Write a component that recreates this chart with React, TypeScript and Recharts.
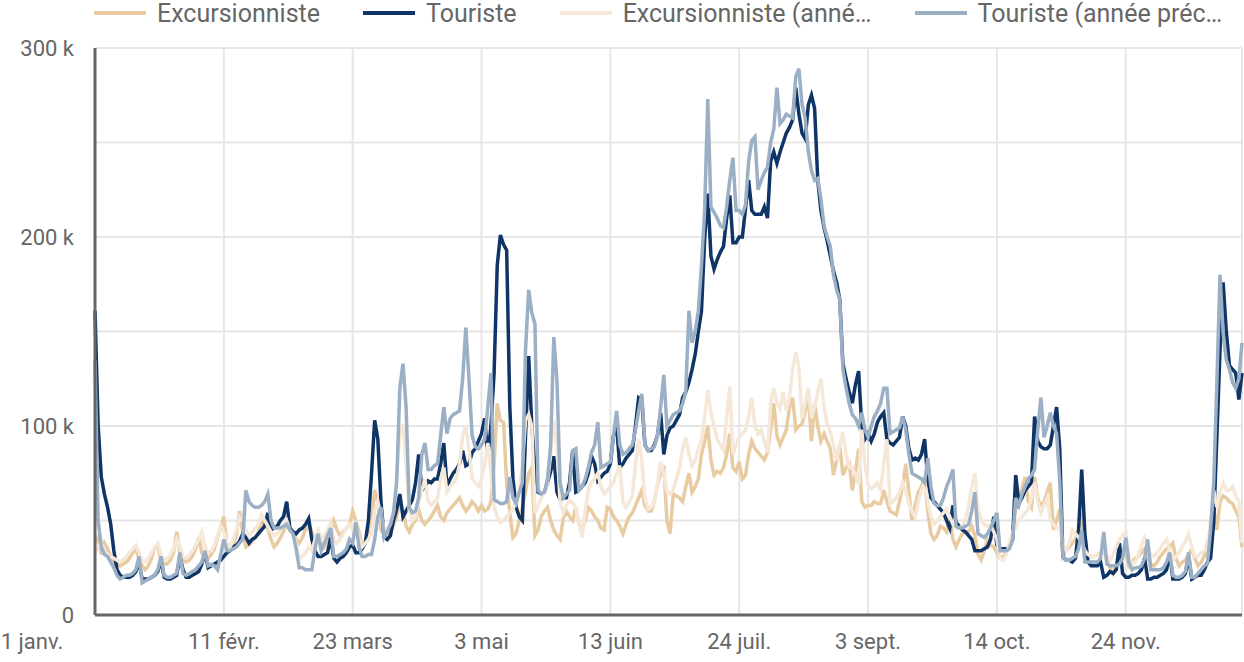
import React from 'react';
import { LineChart, Line, XAxis, YAxis, CartesianGrid, Legend } from 'recharts';

// Values in thousands (k), one per day, 1 Jan -> 31 Dec (leap year, 366 days)
const touriste: number[] = [
  161,100,73,64,57,48,34,24,21,20,
  20,20,21,23,28,19,19,19,20,21,
  23,29,20,19,19,20,21,31,24,20,
  20,21,22,23,27,33,25,26,27,28,
  29,31,33,34,36,37,39,43,41,38,
  40,41,43,45,47,54,45,46,47,50,
  52,60,46,44,43,45,46,48,51,40,
  34,31,31,32,33,41,30,28,30,31,
  33,36,37,33,33,35,38,50,75,103,
  93,60,41,40,42,50,56,64,52,55,
  58,61,70,85,66,68,71,70,72,72,
  80,91,68,72,75,77,80,87,79,80,
  86,88,92,96,104,84,100,128,185,201,
  196,193,110,72,57,52,50,95,137,100,
  78,65,64,65,70,76,84,65,61,62,
  62,70,87,65,66,68,70,75,84,80,
  71,73,75,76,80,95,100,78,80,83,
  85,87,100,115,114,90,87,87,90,95,
  107,85,95,99,100,103,106,115,118,123,130,
  138,150,161,199,223,190,183,188,192,195,
  210,222,197,197,200,200,215,230,214,212,
  212,212,216,210,240,245,239,245,250,255,
  258,262,279,265,255,252,270,275,268,230,
  214,205,198,190,182,176,167,133,125,118,
  112,122,129,100,93,96,92,96,102,105,
  107,93,91,90,92,94,105,100,88,82,
  83,82,85,93,72,62,60,58,56,54,
  50,46,58,49,47,45,44,42,40,34,
  34,34,35,36,40,52,37,35,35,35,
  36,40,74,59,62,66,68,70,105,92,
  89,88,88,90,100,110,88,31,29,29,
  28,30,45,77,43,28,26,26,26,28,
  20,21,23,22,24,38,22,20,20,21,
  21,22,24,30,19,19,20,20,21,22,
  24,33,19,19,19,20,22,31,19,20,
  21,21,24,28,30,49,94,140,176,150,
  132,130,128,114,128,
];

const touristePrec: number[] = [
  135,50,36,32,31,28,25,21,19,20,
  21,21,22,24,31,17,18,19,20,21,
  24,31,21,20,20,21,22,33,22,21,
  22,23,24,26,28,34,26,27,26,24,
  32,40,34,34,35,36,38,40,66,60,
  58,57,57,58,60,64,50,46,46,46,
  47,48,45,43,35,25,25,24,24,24,
  35,43,34,38,42,46,31,31,32,33,
  35,40,38,49,36,31,31,32,32,40,
  52,57,41,44,48,54,70,120,133,110,
  57,54,55,62,85,91,77,77,79,80,
  95,110,96,104,106,107,108,125,152,125,
  95,89,88,90,93,110,128,61,60,59,
  59,60,73,62,59,65,70,140,172,160,
  154,66,64,65,72,90,147,124,70,62,
  64,66,87,88,66,68,72,78,86,90,
  102,78,79,80,81,95,108,90,85,86,
  88,90,98,108,117,90,87,88,89,95,
  110,127,100,103,106,107,108,112,118,161,144,
  150,161,185,214,273,216,213,210,206,205,
  216,230,242,214,214,212,217,240,251,253,
  225,230,234,237,250,257,279,260,262,265,
  264,263,285,289,270,263,245,235,230,231,
  220,206,200,195,180,172,167,130,120,112,
  106,104,100,107,98,94,100,105,108,112,
  120,120,96,97,98,99,105,98,85,75,
  74,73,72,70,83,68,59,58,58,62,
  68,72,77,47,46,46,47,48,55,65,
  43,42,41,43,46,50,54,34,34,34,
  35,40,62,58,64,68,72,74,77,98,
  115,94,100,107,100,96,71,31,29,29,
  30,31,35,45,28,28,28,28,28,30,
  44,27,26,26,26,27,30,41,28,24,
  25,25,26,30,40,24,24,24,24,25,
  28,33,21,20,20,21,23,33,20,20,
  22,24,26,27,45,70,123,180,149,135,
  130,123,120,125,144,
];

const excursionniste: number[] = [
  38,41,32,38,35,31,28,27,26,27,
  28,30,33,35,30,26,24,26,30,36,
  36,29,27,27,29,33,44,33,29,28,
  29,31,35,41,33,30,30,32,35,41,
  47,52,36,37,38,42,55,44,36,37,
  39,41,44,50,47,46,40,36,38,41,
  44,49,46,44,40,38,41,45,48,44,
  40,41,38,36,39,44,50,45,42,44,
  46,48,55,50,44,36,38,40,50,66,
  60,45,42,40,44,48,52,60,56,47,
  44,48,50,56,50,48,50,52,55,58,
  52,50,54,56,58,60,62,58,55,57,
  60,58,55,58,55,56,60,80,112,103,
  102,70,54,41,43,50,57,65,75,78,
  42,45,52,55,57,50,45,42,40,51,
  55,52,50,57,48,45,50,57,55,52,
  50,46,45,57,56,52,50,47,43,48,
  52,54,58,62,66,58,55,55,60,69,
  75,79,50,43,64,63,62,60,68,75,65,
  68,72,85,92,100,82,74,76,75,78,
  85,96,78,76,81,72,74,85,92,88,
  86,84,82,86,98,112,95,90,94,98,
  110,115,98,100,101,108,115,92,112,100,
  92,96,92,88,74,82,90,74,78,80,
  66,76,88,60,57,58,58,60,59,59,
  66,60,55,54,53,60,68,80,65,50,
  58,65,68,73,55,43,40,42,47,46,
  44,52,40,36,40,43,44,44,47,42,
  32,29,34,40,37,36,33,30,31,33,
  36,42,57,61,67,73,60,57,73,62,
  57,60,65,70,45,50,56,31,34,36,
  38,40,46,54,31,31,31,31,32,33,
  35,29,25,22,26,29,31,33,26,28,
  30,31,33,35,30,27,26,28,31,33,
  35,36,38,30,26,28,29,32,35,30,
  26,28,31,38,45,56,45,60,63,62,
  60,59,55,52,36,
];

const excursionnistePrec: number[] = [
  33,36,38,34,32,31,30,29,28,29,
  31,33,35,37,33,29,28,30,33,36,
  38,32,29,30,32,35,40,36,31,30,
  32,34,37,40,44,36,33,34,37,42,
  47,44,38,36,40,45,52,50,45,42,
  44,46,48,53,50,47,44,42,43,45,
  48,50,45,42,38,30,31,33,36,34,
  40,45,40,42,45,49,40,38,40,43,
  46,48,45,48,40,36,38,40,44,55,
  60,52,46,45,48,55,75,95,101,80,
  55,50,52,60,66,72,60,58,60,62,
  72,78,65,68,70,72,80,95,100,88,
  72,70,68,72,80,91,75,57,52,49,
  50,52,54,56,60,65,80,103,106,100,
  54,58,62,65,70,85,103,89,60,54,
  58,61,59,57,48,41,55,66,70,72,
  75,68,64,66,68,70,75,79,60,57,
  60,63,80,93,82,62,56,57,60,70,
  81,75,65,64,66,72,78,88,94,85,79,
  82,88,93,105,119,107,100,93,90,87,
  105,121,85,90,94,96,98,105,115,100,
  96,98,92,86,112,120,112,109,118,108,
  115,130,139,131,104,112,120,104,110,118,
  125,110,101,97,90,82,90,97,85,78,
  78,74,69,98,80,69,67,68,70,66,
  80,93,59,60,62,65,70,65,59,55,
  52,60,66,70,60,52,48,50,52,54,
  56,52,48,46,46,47,50,58,68,75,
  56,50,48,47,48,44,40,30,29,32,
  38,44,46,50,52,54,56,62,70,60,
  54,58,62,50,48,46,45,38,34,38,
  45,43,41,38,34,32,31,31,32,33,
  34,31,29,32,36,40,42,44,30,27,
  28,32,37,41,36,32,31,33,35,38,
  40,34,29,31,33,36,39,43,36,31,
  31,33,34,36,50,66,57,65,70,66,
  66,68,63,60,38,
];

const tickDays: number[] = [0, 41, 82, 123, 164, 205, 246, 287, 328];
const tickLabels: string[] = ['1 janv.', '11 févr.', '23 mars', '3 mai', '13 juin', '24 juil.', '3 sept.', '14 oct.', '24 nov.'];
const yTicks: number[] = [0, 50, 100, 150, 200, 250, 300];

const seriesNames: string[] = ['Excursionniste', 'Touriste', 'Excursionniste (année précédente)', 'Touriste (année précédente)'];
const legendLabels: string[] = ['Excursionniste', 'Touriste', 'Excursionniste (anné…', 'Touriste (année préc…'];
const colors: string[] = ['#e8cba1', '#0f3466', '#f6e8d8', '#9bafc5'];

const data = touriste.map((_, i) => ({
  day: i,
  exc: excursionniste[i],
  tour: touriste[i],
  excPrev: excursionnistePrec[i],
  tourPrev: touristePrec[i],
}));

const FONT = 'Roboto, "Noto Sans", sans-serif';

const XTick = (props: any) => {
  const { x, y, payload } = props;
  const idx = tickDays.indexOf(payload.value);
  const label = idx >= 0 ? tickLabels[idx] : '';
  const px = payload.value === 0 ? x - 63 : x;
  return (
    <text x={px} y={y} dy="0.71em" textAnchor="middle" fill="#666" fontSize={22} fontFamily={FONT}>
      {label}
    </text>
  );
};

const LegendContent = () => (
  <div style={{ display: 'flex', alignItems: 'center', height: 26, paddingLeft: 94, fontFamily: FONT, fontSize: 25, color: '#666', whiteSpace: 'nowrap' }}>
    {legendLabels.map((l, i) => (
      <div key={l} style={{ display: 'flex', alignItems: 'center', marginRight: 43 }}>
        <span style={{ display: 'inline-block', width: 52, height: 4, background: colors[i], marginRight: 11 }} />
        <span>{l}</span>
      </div>
    ))}
  </div>
);

const keys = ['exc', 'tour', 'excPrev', 'tourPrev'];

export default function App() {
  return (
    <div style={{ position: 'absolute', left: 0, top: 0, width: 1244, height: 662, background: '#fff' }}>
      <LineChart width={1244} height={662} data={data} margin={{ top: 22, right: 2, bottom: 0, left: 0 }}>
        <CartesianGrid stroke="#e6e6e6" strokeWidth={2} />
        <XAxis
          dataKey="day"
          type="number"
          domain={[0, 365]}
          ticks={tickDays}
          tick={<XTick />}
          tickLine={false}
          tickSize={0}
          tickMargin={18}
          height={47}
          axisLine={{ stroke: '#666', strokeWidth: 3 }}
          interval={0}
        />
        <YAxis
          domain={[0, 300]}
          ticks={yTicks}
          width={95}
          tickLine={false}
          tickSize={0}
          tickMargin={21}
          interval={0}
          axisLine={{ stroke: '#666', strokeWidth: 3 }}
          tick={{ fill: '#666', fontSize: 22, fontFamily: FONT }}
          tickFormatter={(v: number) => (v === 0 ? '0' : v % 100 === 0 ? `${v} k` : '')}
        />
        <Legend verticalAlign="top" content={<LegendContent />} wrapperStyle={{ top: 0, left: 0, width: 1244, height: 26 }} />
        {keys.map((k, i) => (
          <Line
            key={k}
            dataKey={k}
            name={seriesNames[i]}
            stroke={colors[i]}
            strokeWidth={3.5}
            dot={false}
            activeDot={false}
            type="linear"
            isAnimationActive={false}
          />
        ))}
      </LineChart>
    </div>
  );
}
